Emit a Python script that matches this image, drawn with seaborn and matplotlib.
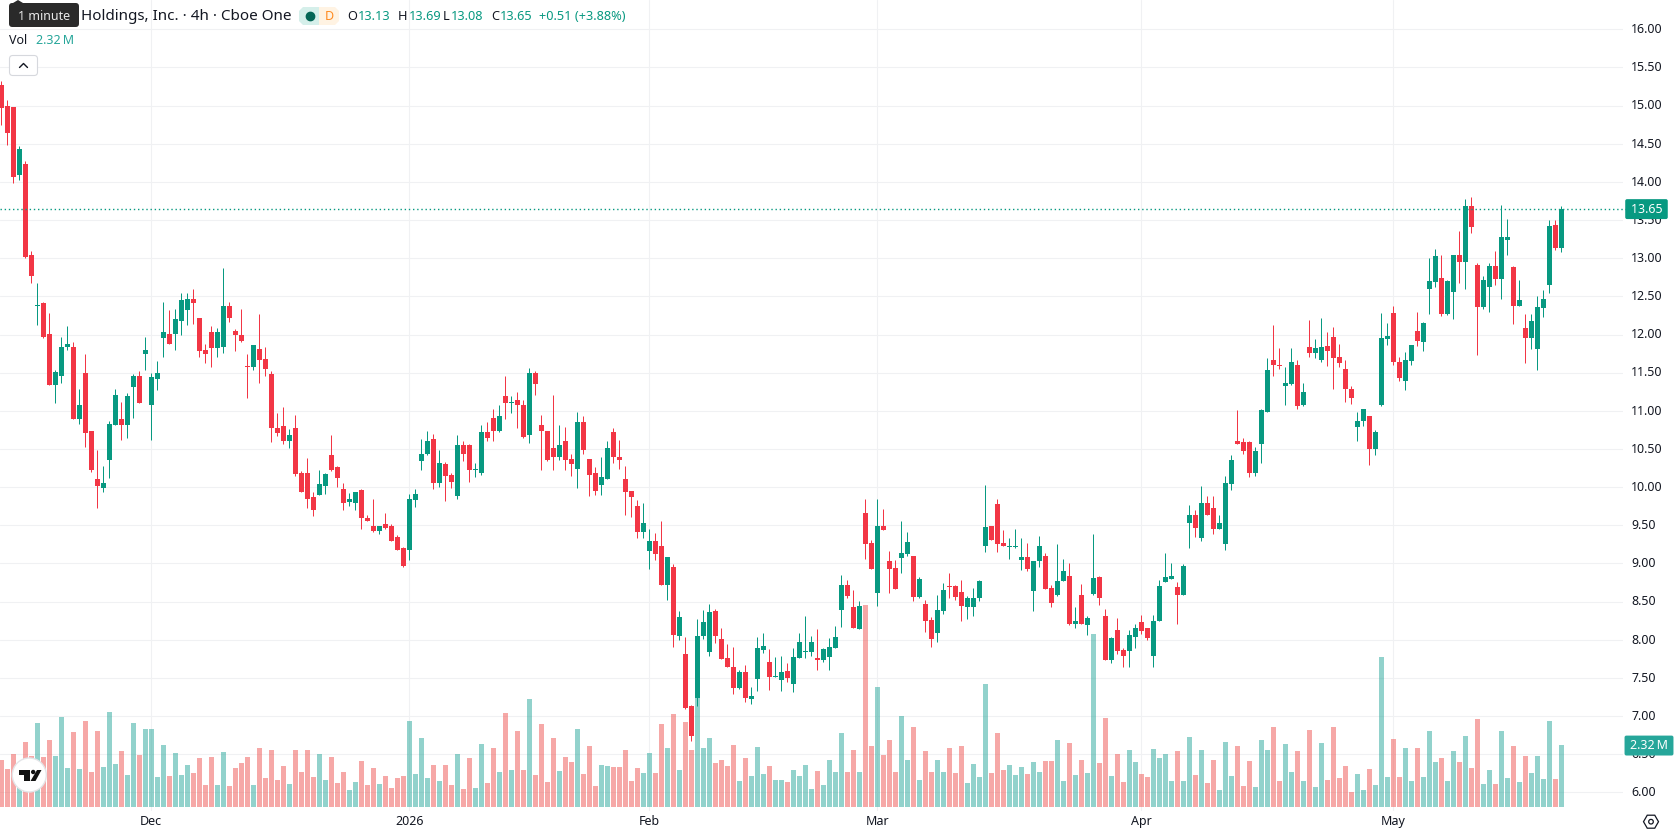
import numpy as np
import pandas as pd
import matplotlib
matplotlib.use("Agg")
import matplotlib.pyplot as plt
from matplotlib.patches import Circle, FancyBboxPatch, Polygon, RegularPolygon
from matplotlib.lines import Line2D
from matplotlib.transforms import IdentityTransform, offset_copy
import seaborn as sns

# 4h session candles, oldest first
opens = [15.27,14.99,14.98,14.09,14.23,13.04,12.38,12.41,12.01,11.34,11.46,11.83,11.84,10.89,11.49,10.73,10.11,9.99,10.35,10.82,
         10.89,10.82,11.31,11.45,11.74,11.07,11.42,11.96,12.01,12.01,12.18,12.32,12.47,12.22,11.80,12.03,11.82,11.84,12.37,12.04,
         11.99,11.59,11.57,11.81,11.68,11.48,10.78,10.80,10.60,10.78,10.18,10.19,9.87,9.89,10.02,10.42,10.26,9.97,9.80,9.79,
         9.96,9.60,9.49,9.43,9.51,9.49,9.34,9.20,9.18,9.83,10.34,10.43,10.63,10.05,10.30,10.16,9.88,10.55,10.55,10.22,
         10.18,10.72,10.90,10.74,11.19,11.10,11.14,11.08,10.68,11.49,10.81,10.74,10.51,10.39,10.61,10.37,10.24,10.85,10.37,10.18,
         10.03,10.11,10.72,10.39,10.11,9.95,9.75,9.41,9.16,9.29,9.23,8.72,8.95,8.05,7.81,7.13,7.23,8.05,7.84,8.38,
         8.01,7.76,7.64,7.37,7.58,7.22,7.48,7.86,7.71,7.51,7.47,7.59,7.42,7.76,7.84,7.84,7.76,7.73,7.77,7.89,
         8.39,8.72,8.43,8.14,9.66,9.27,8.61,9.49,9.03,8.94,9.07,9.12,9.10,8.56,8.47,8.26,8.09,8.38,8.70,8.70,
         8.63,8.43,8.43,8.55,9.23,9.49,9.78,9.27,9.22,9.22,9.05,9.08,8.64,9.03,9.10,8.68,8.59,8.77,8.84,8.21,
         8.59,8.19,8.60,8.82,8.31,7.74,8.13,7.86,7.85,8.04,8.23,8.15,7.79,8.24,8.76,8.80,8.69,8.59,9.53,9.64,
         9.33,9.79,9.73,9.45,9.26,10.04,10.61,10.59,10.59,10.18,10.56,10.99,11.66,11.60,11.32,11.35,11.60,11.07,11.83,11.76,
         11.67,11.85,11.97,11.71,11.55,11.29,10.79,10.87,10.93,10.50,11.08,11.94,12.28,11.64,11.39,11.65,12.05,11.90,12.60,12.69,
         12.74,12.27,12.56,13.04,12.95,13.69,12.91,12.36,12.62,12.90,12.73,13.24,12.89,12.37,12.09,11.95,11.81,12.35,12.65,13.44,
         13.13]
highs = [15.32,15.07,14.98,14.47,14.27,13.09,12.68,12.42,12.28,11.53,11.97,12.11,11.90,11.28,11.74,10.74,10.48,10.28,10.86,11.28,
         11.11,11.23,11.48,11.52,11.97,11.50,11.65,12.42,12.32,12.34,12.54,12.55,12.59,12.22,11.88,12.11,12.08,12.87,12.43,12.07,
         12.33,11.74,11.86,12.27,11.83,11.52,10.97,11.05,10.76,10.94,10.21,10.38,9.94,10.22,10.18,10.68,10.27,10.05,9.92,9.94,
         9.97,9.64,9.84,9.49,9.66,9.51,9.37,9.22,9.91,9.98,10.63,10.73,10.69,10.48,10.33,10.19,10.68,10.61,10.57,10.32,
         10.82,10.85,11.02,11.07,11.45,11.19,11.24,11.14,11.56,11.52,10.94,10.74,11.21,10.81,10.79,10.44,10.99,10.93,10.37,10.26,
         10.40,10.60,10.78,10.62,10.27,9.95,9.83,9.79,9.45,9.40,9.56,9.08,8.99,8.38,8.04,7.14,8.27,8.39,8.47,8.40,
         8.15,7.94,7.90,7.60,7.67,7.38,8.04,8.09,7.88,7.77,7.79,7.69,7.89,8.09,8.31,8.05,8.14,7.89,8.02,8.18,
         8.85,8.78,8.65,8.51,9.85,9.31,9.85,9.71,9.16,9.05,9.56,9.41,9.10,8.82,8.52,8.30,8.59,8.74,8.87,8.72,
         8.78,8.57,8.68,8.78,10.03,9.49,9.85,9.44,9.33,9.45,9.33,9.27,9.03,9.36,9.14,8.72,9.26,9.06,9.00,8.43,
         8.73,8.31,9.39,8.84,8.40,8.03,8.28,7.89,8.13,8.20,8.33,8.15,8.33,8.78,9.13,9.00,8.75,8.99,9.77,9.70,
         10.01,9.88,9.88,9.64,10.15,10.42,11.01,10.65,10.61,10.52,11.02,11.69,12.12,11.82,11.57,11.82,11.66,11.37,12.19,11.94,
         12.22,12.03,12.10,11.88,11.67,11.33,10.98,11.02,10.93,10.75,12.28,12.15,12.37,11.71,11.77,11.86,12.30,12.16,13.00,13.12,
         13.04,12.72,13.04,13.36,13.77,13.80,12.94,12.77,12.94,13.10,13.70,13.52,12.90,12.72,12.27,12.27,12.51,12.58,13.50,13.50,
         13.69]
lows = [14.74,14.49,13.98,14.02,13.00,12.68,12.12,11.96,11.34,11.10,11.37,11.80,10.89,10.83,10.52,10.20,9.72,9.94,10.12,10.82,
        10.62,10.64,10.90,11.10,11.54,10.62,11.27,11.70,11.88,11.80,11.99,12.13,12.14,11.70,11.63,11.57,11.71,11.76,12.17,11.78,
        11.90,11.17,11.54,11.36,11.45,10.59,10.67,10.57,10.51,10.14,9.93,9.72,9.62,9.89,9.91,10.21,10.00,9.70,9.75,9.70,
        9.45,9.56,9.41,9.38,9.45,9.30,9.17,8.95,9.04,9.74,10.22,10.42,9.97,10.00,9.82,9.99,9.84,10.34,10.07,10.13,
        10.16,10.61,10.61,10.72,10.89,10.97,10.77,10.64,10.58,11.21,10.23,10.34,10.23,10.35,10.22,10.14,9.99,10.43,9.88,9.89,
        9.90,10.11,10.32,10.24,9.63,9.61,9.33,9.33,8.93,9.05,8.72,8.52,7.90,8.00,7.09,6.67,7.13,8.01,7.79,7.96,
        7.75,7.64,7.29,7.35,7.18,7.16,7.33,7.83,7.34,7.51,7.33,7.45,7.31,7.76,7.76,7.79,7.60,7.71,7.60,7.89,
        8.17,8.55,8.15,8.14,9.06,8.93,8.44,9.44,8.61,8.66,8.87,9.10,8.51,8.55,8.10,7.90,7.97,8.34,8.55,8.52,
        8.25,8.27,8.31,8.51,9.15,9.31,9.15,9.23,9.06,9.20,8.91,8.90,8.38,8.95,8.66,8.43,8.57,8.77,8.19,8.15,
        8.21,8.06,8.58,8.46,7.73,7.70,7.81,7.64,7.64,7.89,8.08,8.00,7.64,8.24,8.76,8.80,8.20,8.59,9.20,9.34,
        9.30,9.64,9.39,9.45,9.18,9.96,10.56,10.43,10.13,10.15,10.31,10.99,11.45,11.55,11.07,11.34,11.02,11.06,11.70,11.69,
        11.64,11.59,11.29,11.57,11.12,11.09,10.60,10.80,10.29,10.42,11.06,11.86,11.60,11.39,11.27,11.60,11.85,11.78,12.27,12.62,
        12.24,12.26,12.20,12.68,12.60,13.33,11.73,12.34,12.30,12.65,12.47,13.04,12.14,12.37,11.63,11.81,11.54,12.23,12.55,13.11,
        13.08]
closes = [14.965,14.64,14.07,14.43,13.02,12.77,12.39,11.97,11.34,11.51,11.83,11.87,10.89,11.07,10.71,10.22,10.01,10.06,10.83,11.21,
          10.81,11.19,11.45,11.10,11.80,11.44,11.50,12.03,11.88,12.20,12.45,12.47,12.41,11.79,11.74,11.82,12.03,12.37,12.22,11.99,
          11.92,11.58,11.86,11.66,11.55,10.77,10.71,10.60,10.68,10.17,9.93,9.85,9.70,10.04,10.17,10.23,10.12,9.79,9.85,9.93,
          9.59,9.56,9.43,9.49,9.47,9.30,9.18,8.97,9.84,9.91,10.44,10.61,10.05,10.31,10.14,10.07,10.55,10.44,10.22,10.23,
          10.72,10.64,10.74,10.93,11.10,11.11,11.07,10.66,11.50,11.35,10.73,10.35,10.39,10.55,10.36,10.30,10.85,10.49,10.16,9.95,
          10.13,10.51,10.39,10.35,9.94,9.87,9.41,9.53,9.29,9.12,8.72,9.08,8.06,8.30,7.10,6.74,8.05,8.23,8.36,8.05,
          7.75,7.64,7.37,7.58,7.23,7.26,7.89,7.92,7.51,7.52,7.58,7.50,7.77,7.97,7.85,7.97,7.73,7.88,7.90,8.04,
          8.72,8.57,8.15,8.44,9.26,8.93,9.49,9.44,8.93,8.66,9.14,9.28,8.56,8.80,8.25,8.01,8.39,8.65,8.69,8.56,
          8.44,8.55,8.55,8.77,9.48,9.31,9.26,9.23,9.23,9.22,9.08,8.93,9.03,9.23,8.66,8.48,8.77,8.90,8.21,8.25,
          8.21,8.28,8.81,8.55,7.74,8.02,7.85,7.79,8.06,8.15,8.12,8.02,8.25,8.70,8.82,8.84,8.58,8.97,9.64,9.47,
          9.79,9.64,9.45,9.53,10.05,10.35,10.57,10.47,10.18,10.47,11.01,11.53,11.60,11.59,11.36,11.64,11.06,11.24,11.76,11.82,
          11.84,11.78,11.69,11.63,11.29,11.17,10.87,11.02,10.50,10.72,11.95,11.98,11.64,11.43,11.67,11.86,11.92,12.15,12.70,13.03,
          12.27,12.70,13.04,12.95,13.69,13.41,12.36,12.72,12.90,12.73,13.28,13.28,12.37,12.45,11.95,12.18,12.36,12.47,13.42,13.14,
          13.65]
# Volume per candle, in millions of shares
volumes = [1.76,1.42,1.98,1.00,2.43,1.91,3.15,1.87,2.51,1.91,3.37,1.46,2.81,1.42,3.22,1.31,2.85,1.50,3.56,1.61,
           2.10,1.20,3.15,1.95,2.92,2.92,1.12,2.32,1.16,2.02,1.20,1.57,1.27,1.84,0.82,1.87,0.82,2.06,0.79,1.46,
           1.65,1.87,0.82,2.21,1.09,2.13,1.01,1.54,0.86,2.13,1.31,2.13,1.12,1.98,1.01,1.87,0.90,1.31,0.64,0.94,
           1.72,0.82,1.46,0.86,1.16,0.71,1.09,1.16,3.22,1.24,2.58,1.09,1.57,0.97,1.57,0.82,1.98,0.67,1.84,0.71,
           2.36,0.90,2.21,1.31,3.52,1.39,2.85,1.39,4.04,1.20,3.11,0.94,2.58,1.35,1.87,1.69,2.92,1.24,2.28,0.79,
           1.57,1.54,1.50,1.50,2.13,0.97,1.46,1.27,2.02,1.27,3.11,2.21,3.48,1.39,3.18,2.13,4.08,2.21,2.58,1.65,
           1.76,1.54,2.32,0.97,1.84,1.16,2.25,1.24,1.54,1.01,1.01,0.94,1.39,1.16,1.57,0.67,1.35,0.82,1.76,1.31,
           2.77,1.31,2.13,1.31,7.57,2.28,4.49,1.95,2.51,1.31,3.41,1.76,3.00,1.01,2.10,1.31,1.76,1.31,2.21,1.27,
           2.28,0.90,1.61,1.12,4.61,1.27,2.77,1.39,1.57,1.20,1.50,1.24,1.69,1.31,1.72,1.72,2.51,0.97,2.40,1.20,
           1.76,1.27,6.48,1.64,3.32,1.15,1.97,0.92,2.12,1.67,1.22,1.11,2.16,1.82,1.97,0.96,2.08,0.96,2.61,1.19,
           2.12,0.89,1.75,0.62,2.42,1.15,2.27,0.77,1.71,0.74,2.50,2.12,2.98,0.96,2.35,1.30,2.08,0.96,2.87,0.74,
           2.38,1.00,2.98,1.07,1.52,0.55,1.22,0.62,1.41,0.81,5.61,1.11,2.53,1.11,2.20,0.96,2.20,1.11,2.83,1.67,
           1.82,0.96,2.08,1.67,2.65,1.45,3.28,0.85,1.37,0.85,2.83,1.07,2.27,0.92,1.90,1.26,1.90,1.04,3.21,1.04,
           2.32]
month_ticks = [25, 68, 108, 146, 190, 232]
month_labels = ["Dec", "2026", "Feb", "Mar", "Apr", "May"]
price_ticks = [6.0, 6.5, 7.0, 7.5, 8.0, 8.5, 9.0, 9.5, 10.0, 10.5, 11.0, 11.5, 12.0, 12.5,
               13.0, 13.5, 14.0, 14.5, 15.0, 15.5, 16.0]
last_price = 13.65
last_volume = 2.32

UP = "#089981"
DOWN = "#F23645"
VOL_UP = "#26A69A"
VOL_DOWN = "#EF5350"
INK = "#131722"
GRID = "#F0F1F3"
W, H = 1678, 835

sns.set_theme(style="white")
plt.rcParams["font.family"] = ["Noto Sans", "DejaVu Sans"]

frame = pd.DataFrame({"bar": np.arange(len(closes)), "open": opens, "high": highs,
                      "low": lows, "close": closes, "volume": volumes})
frame["side"] = np.where(frame["close"] >= frame["open"], "up", "down")


def px(x, y):
    """Pixel position, measured from the top left, in figure fractions."""
    return x / W, 1 - y / H


fig = plt.figure(figsize=(W / 100, H / 100), dpi=100, facecolor="white")
pane = [0, (H - 811) / H, 1623 / W, 811 / H]
xlim = (-1.3 / 6, (1623 - 1.3) / 6)
price_lim = (6 - (811 - 792.3) / 76.3, 6 + 792.3 / 76.3)
volume_lim = ((807 - 811) / 26.7, 807 / 26.7)

# Bottom layer: grid and both tick scales
ax = fig.add_axes(pane, zorder=0)
ax.set_xlim(xlim)
ax.set_ylim(price_lim)
ax.set_xticks(month_ticks, month_labels)
ax.set_yticks(price_ticks, [f"{t:.2f}" for t in price_ticks])
ax.yaxis.tick_right()
ax.grid(True, color=GRID, linewidth=0.8)
ax.set_axisbelow(True)
ax.tick_params(axis="x", length=0, pad=3.2, labelsize=9, labelcolor=INK)
ax.tick_params(axis="y", length=0, pad=5.8, labelsize=8.9, labelcolor=INK, labelright=True, labelleft=False)
# Price labels sit a little above their grid lines
for tick in ax.yaxis.get_major_ticks():
    tick.label2.set_transform(offset_copy(tick.label2.get_transform(), fig=fig, y=1.2, units="dots"))
for label in ax.get_xticklabels():
    if label.get_text() == "2026":
        label.set_fontweight("bold")
sns.despine(ax=ax, left=True, bottom=True, right=True, top=True)

# Middle layer: translucent volume bars along the pane bottom
ax_vol = fig.add_axes(pane, zorder=1)
ax_vol.patch.set_alpha(0)
sns.barplot(data=frame, x="bar", y="volume", hue="side", hue_order=["up", "down"],
            palette={"up": VOL_UP, "down": VOL_DOWN}, native_scale=True, dodge=False, width=5 / 6,
            saturation=1, alpha=0.5, linewidth=0, legend=False, ax=ax_vol)
ax_vol.set_xlim(xlim)
ax_vol.set_ylim(volume_lim)
ax_vol.axis("off")

# Top layer: candles and the last-value tags
ax_c = fig.add_axes(pane, zorder=2)
ax_c.patch.set_alpha(0)
ax_c.set_xlim(xlim)
ax_c.set_ylim(price_lim)
ax_c.axis("off")
for side, color in (("up", UP), ("down", DOWN)):
    part = frame[frame["side"] == side]
    ax_c.vlines(part["bar"], part["low"], part["high"], color=color, linewidth=0.72)
    body_low = part[["open", "close"]].min(axis=1)
    # A flat session still shows as a one-pixel line
    body_height = np.maximum((part["close"] - part["open"]).abs(), 1 / 76.3)
    ax_c.bar(part["bar"], body_height, bottom=body_low, width=5 / 6, color=color, linewidth=0)

last_line, = ax_c.plot([xlim[0], xlim[1] + 1], [last_price, last_price], color=UP, linewidth=1.0,
                       linestyle=(0, (1, 2)), dash_capstyle="butt", clip_on=False)
last_line.set_snap(True)
tag_box = dict(boxstyle="round,pad=0.28,rounding_size=0.15", ec="none")
ax_c.annotate(f"\u2009{last_price:.2f}\u2009", xy=(1, last_price), xycoords=("axes fraction", "data"),
              xytext=(23.5, 1), textcoords="offset pixels", ha="center", va="center_baseline",
              fontsize=8.9, color="white", annotation_clip=False, zorder=5, bbox=dict(tag_box, fc=UP))
ax_tag = fig.add_axes(pane, zorder=3)
ax_tag.patch.set_alpha(0)
ax_tag.set_xlim(xlim)
ax_tag.set_ylim(volume_lim)
ax_tag.axis("off")
ax_tag.annotate(f"\u2009{last_volume:.2f}\u2009M\u2009", xy=(1, last_volume), xycoords=("axes fraction", "data"),
                xytext=(26, 1), textcoords="offset pixels", ha="center", va="center_baseline",
                fontsize=8.9, color="white", annotation_clip=False, bbox=dict(tag_box, fc=VOL_UP))


# Legend row across the top of the pane
def header(x, y, text, color=INK, size=9.0, **kw):
    fx, fy = px(x, y)
    fig.text(fx, fy, text, color=color, fontsize=size, ha="left", va="center", zorder=20, **kw)


def add(patch):
    patch.set_transform(fig.transFigure)
    patch.set_zorder(15)
    fig.add_artist(patch)


def px_poly(points, **kw):
    add(Polygon([px(x, y) for x, y in points], closed=True, **kw))


header(81, 17, "Holdings, Inc. \u00b7 4h \u00b7 Cboe One", size=10.95)
for x, gap, label, value in ((347, 11, "O", "13.13"), (398, 11, "H", "13.69"), (443, 8, "L", "13.08"), (491, 9, "C", "13.65")):
    header(x, 17, label, size=9.2)
    header(x + gap, 17, value, color=UP, size=9.2)
header(539, 17, "+0.51 (+3.88%)", color=UP, size=9.2)
header(9, 41, "Vol", size=9.0)
header(36, 41, f"{last_volume:.2f}\u2009M", color=VOL_UP, size=9.0)

# Status pill beside the title
px_poly([(303, 7), (319, 7), (319, 25), (303, 25), (299, 21), (299, 11)], facecolor="#D5EFEA", edgecolor="none")
px_poly([(319, 7), (335, 7), (339, 11), (339, 21), (335, 25), (319, 25)], facecolor="#FFF3E3", edgecolor="none")
dx, dy = px(310, 16)
fig.add_artist(Line2D([dx], [dy], marker="o", markersize=6, color="#056656", transform=fig.transFigure, zorder=16))
header(324.5, 17, "D", color="#FF8A1F", size=9.0, fontweight="bold")

# Interval tooltip over the start of the title
x0, y0 = px(9, 27)
x1, y1 = px(79, 3)
add(FancyBboxPatch((x0, y0), x1 - x0, y1 - y0, boxstyle="round,pad=0,rounding_size=0.002",
                   mutation_aspect=2, facecolor="#2A2A2A", edgecolor="none"))
px_poly([(13, 3), (18, 0), (23, 3)], facecolor="#2A2A2A", edgecolor="none")
header(18, 16, "1 minute", color="#E8E8E8", size=9.0)

# Collapse button under the legend
x0, y0 = px(9.5, 75.5)
x1, y1 = px(37.5, 55.5)
add(FancyBboxPatch((x0, y0), x1 - x0, y1 - y0, boxstyle="round,pad=0,rounding_size=0.002",
                   mutation_aspect=2, facecolor="white", edgecolor="#D6D8DD", linewidth=0.8))
xs, ys = zip(*[px(19.5, 67.5), px(23.5, 63.5), px(27.5, 67.5)])
fig.add_artist(Line2D(xs, ys, color=INK, linewidth=1.0, transform=fig.transFigure, zorder=16))

# Brand badge in the lower left corner
fig.add_artist(Circle((29.3, H - 775), 17, facecolor="white", edgecolor="#E4E5E8", linewidth=1.0,
                      transform=IdentityTransform(), zorder=15))
px_poly([(18.6, 770), (29.5, 770), (29.5, 781), (24, 781), (24, 774.5), (18.6, 774.5)], facecolor="#111111", edgecolor="none")
px_poly([(37, 770), (41.5, 770), (35.5, 781), (30.5, 781)], facecolor="#111111", edgecolor="none")
fig.add_artist(Circle((33.2, H - 772), 2.2, facecolor="#111111", edgecolor="none",
                      transform=IdentityTransform(), zorder=16))

# Settings glyph at the bottom of the price scale
fig.add_artist(RegularPolygon((1651, H - 821.7), 6, radius=7.5, orientation=np.pi / 6, facecolor="none",
                              edgecolor=INK, linewidth=0.9, transform=IdentityTransform(), zorder=16))
fig.add_artist(Circle((1651, H - 821.7), 2.3, facecolor="none", edgecolor=INK, linewidth=0.9,
                      transform=IdentityTransform(), zorder=16))

fig.savefig("out.png", dpi=100, facecolor="white")
